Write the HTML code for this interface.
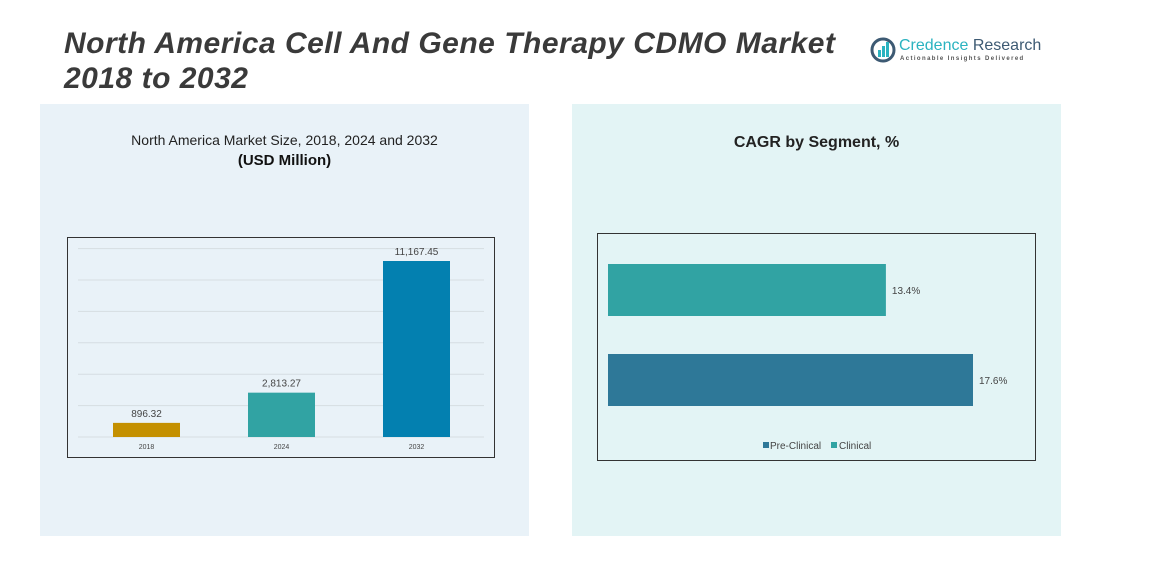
<!DOCTYPE html>
<html><head><meta charset="utf-8"><style>
body{margin:0;width:1176px;height:581px;background:#fff;position:relative;overflow:hidden;font-family:"Liberation Sans",sans-serif}
.t{position:absolute;white-space:nowrap}
</style></head><body>
<div class="t" style="left:64px;top:26px;font-size:30px;letter-spacing:0.5px;font-weight:bold;font-style:italic;color:#3a3a3a;line-height:35px">North America Cell And Gene Therapy CDMO Market<br>2018 to 2032</div>
<div style="position:absolute;left:870px;top:36px;width:170px;height:30px">
<svg width="28" height="28" style="position:absolute;left:0;top:0"><circle cx="13" cy="14" r="11" fill="none" stroke="#3d5a73" stroke-width="3"/><rect x="8" y="14" width="3" height="7" fill="#2bb3c0"/><rect x="12" y="10" width="3" height="11" fill="#2bb3c0"/><rect x="16" y="6" width="3" height="15" fill="#2bb3c0"/></svg>
<div class="t" style="left:29px;top:1px;font-size:16px;color:#2bb3c0">Credence <span style="color:#3d5a73">Research</span></div>
<div class="t" style="left:30px;top:20px;font-size:6px;letter-spacing:1.4px;color:#555;font-weight:bold">Actionable Insights Delivered</div>
</div>
<div style="position:absolute;left:40px;top:104px;width:489px;height:432px;background:#e9f2f8"></div>
<div style="position:absolute;left:572px;top:104px;width:489px;height:432px;background:#e3f4f5"></div>
<div class="t" style="left:40px;width:489px;text-align:center;top:132px;font-size:14px;color:#222">North America Market Size, 2018, 2024 and 2032</div>
<div class="t" style="left:40px;width:489px;text-align:center;top:152px;font-size:15px;font-weight:bold;color:#111">(USD Million)</div>
<div class="t" style="left:572px;width:489px;text-align:center;top:134px;font-size:16px;font-weight:bold;color:#222">CAGR by Segment, %</div>
<svg width="1176" height="581" style="position:absolute;left:0;top:0" id="s"></svg>
<script>
const years=["2018","2024","2032"];
const sizes=[896.32,2813.27,11167.45];
const sizeLabels=["896.32","2,813.27","11,167.45"];
const segs=["Clinical","Pre-Clinical"];
const cagr=[13.4,17.6];
const cagrLabels=["13.4%","17.6%"];
const NS="http://www.w3.org/2000/svg",s=document.getElementById('s');
function mk(t,a,txt){const e=document.createElementNS(NS,t);for(const k in a)e.setAttribute(k,a[k]);if(txt!=null)e.textContent=txt;s.appendChild(e);return e;}
let e=mk('rect',{x:67.5,y:237.5,width:427,height:220,fill:'none',stroke:'#333'});

const base=437,yMax=11167.45,hMax=176;
const yS=v=>base-v/yMax*hMax;
for(let i=0;i<7;i++){e=mk('line',{x1:78,x2:484,y1:base-i*31.4,y2:base-i*31.4,stroke:'#d6dde2'});
}
const cols=['#c49000','#31a3a3','#0380b0'];
years.forEach((y,i)=>{const cx=146.5+i*135;
e=mk('rect',{x:cx-33.5,y:yS(sizes[i]),width:67,height:base-yS(sizes[i]),fill:cols[i]});

e=mk('text',{x:cx,y:yS(sizes[i])-6,'text-anchor':'middle','font-size':10,fill:'#444'},sizeLabels[i]);

e=mk('text',{x:cx,y:449,'text-anchor':'middle','font-size':7,fill:'#444'},y);
});
e=mk('rect',{x:597.5,y:233.5,width:438,height:227,fill:'none',stroke:'#333'});

const x0=608,xS=v=>x0+v/17.6*365;
const hc=['#31a3a3','#2e7898'];
segs.forEach((g,i)=>{const top=264+i*90;
e=mk('rect',{x:x0,y:top,width:xS(cagr[i])-x0,height:52,fill:hc[i]});

e=mk('text',{x:xS(cagr[i])+6,y:top+30,'font-size':10,fill:'#444'},cagrLabels[i]);
});
e=mk('rect',{x:763,y:442,width:6,height:6,fill:'#2e7898'});

e=mk('text',{x:770,y:449,'font-size':10,fill:'#444'},'Pre-Clinical');

e=mk('rect',{x:831,y:442,width:6,height:6,fill:'#31a3a3'});

e=mk('text',{x:839,y:449,'font-size':10,fill:'#444'},'Clinical');

</script>
</body></html>
